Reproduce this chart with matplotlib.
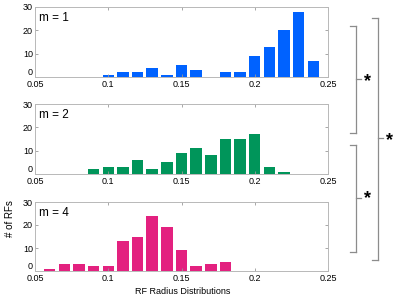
import numpy as np
import matplotlib.pyplot as plt
from matplotlib.lines import Line2D

plt.rcParams['font.family'] = ['Liberation Sans', 'DejaVu Sans']

# bin centres and counts for each m
m1_x = [0.10, 0.11, 0.12, 0.13, 0.14, 0.15, 0.16, 0.17, 0.18, 0.19, 0.20, 0.21, 0.22, 0.23, 0.24]
m1_n = [1, 2, 2, 4, 1, 5, 3, 0, 2, 2, 9, 13, 20, 28, 7]
m2_x = [0.09, 0.10, 0.11, 0.12, 0.13, 0.14, 0.15, 0.16, 0.17, 0.18, 0.19, 0.20, 0.21, 0.22]
m2_n = [2, 3, 3, 6, 2, 5, 9, 11, 8, 15, 15, 17, 3, 1]
m4_x = [0.06, 0.07, 0.08, 0.09, 0.10, 0.11, 0.12, 0.13, 0.14, 0.15, 0.16, 0.17, 0.18]
m4_n = [1, 3, 3, 2, 2, 13, 15, 24, 19, 9, 2, 3, 4]

labels = ['m = 1', 'm = 2', 'm = 4']
colors = ['#0062FF', '#00955A', '#E3217F']
xticks = [0.05, 0.1, 0.15, 0.2, 0.25]
xticklabels = ['0.05', '0.1', '0.15', '0.2', '0.25']
yticks = [0, 10, 20, 30]

W, H = 397, 298
fig = plt.figure(figsize=(W / 100, H / 100), dpi=100)

# panel boxes in pixels (left, top, right, bottom)
boxes = [(35, 7, 328, 77), (35, 104, 328, 174), (35, 202, 328, 271)]
data = [(m1_x, m1_n), (m2_x, m2_n), (m4_x, m4_n)]

for (l, t, r, b), (xs, ns), lab, col in zip(boxes, data, labels, colors):
    ax = fig.add_axes([l / W, 1 - b / H, (r - l) / W, (b - t) / H])
    ax.bar(xs, ns, width=0.0078, color=col, edgecolor='none')
    ax.set_xlim(0.05, 0.25)
    ax.set_ylim(0, 30)
    ax.set_xticks(xticks)
    ax.set_xticklabels(xticklabels)
    ax.set_yticks(yticks)
    ax.tick_params(direction='in', top=True, right=True, length=2.5,
                   width=0.6, color='#999999', labelsize=6.5, pad=1.5)
    ax.tick_params(axis='x', pad=2.5)
    # lift the "0" a little, as in the source figure
    ax.get_yticklabels()[0].set_va('bottom')
    for s in ax.spines.values():
        s.set_color('#b8b8b8')
        s.set_linewidth(0.7)
    ax.text(0.015, 0.93, lab, transform=ax.transAxes, ha='left', va='top', fontsize=8.5)

fig.text(183 / W, 1 - 292 / H, 'RF Radius Distributions', ha='center', va='center', fontsize=6.5)
fig.text(10 / W, 1 - 219 / H, '# of RFs', ha='center', va='center', rotation=90, fontsize=7)


def bracket(x, y0, y1, ym, sx, sy):
    pts = [((x - 6, y0), (x, y0)), ((x, y0), (x, y1)), ((x - 6, y1), (x, y1)), ((x, ym), (x + 5, ym))]
    for (ax0, ay0), (ax1, ay1) in pts:
        fig.add_artist(Line2D([ax0 / W, ax1 / W], [1 - ay0 / H, 1 - ay1 / H],
                              transform=fig.transFigure, color='#8c8c8c', lw=0.9))
    fig.text(sx / W, 1 - sy / H, '*', ha='center', va='center', fontsize=13, fontweight='bold')


bracket(355.5, 26, 133, 79, 368, 82)
bracket(355.5, 145, 252, 198, 368, 199)
bracket(377.5, 18, 260, 138, 389, 141)

fig.savefig('out.png', dpi=100)
